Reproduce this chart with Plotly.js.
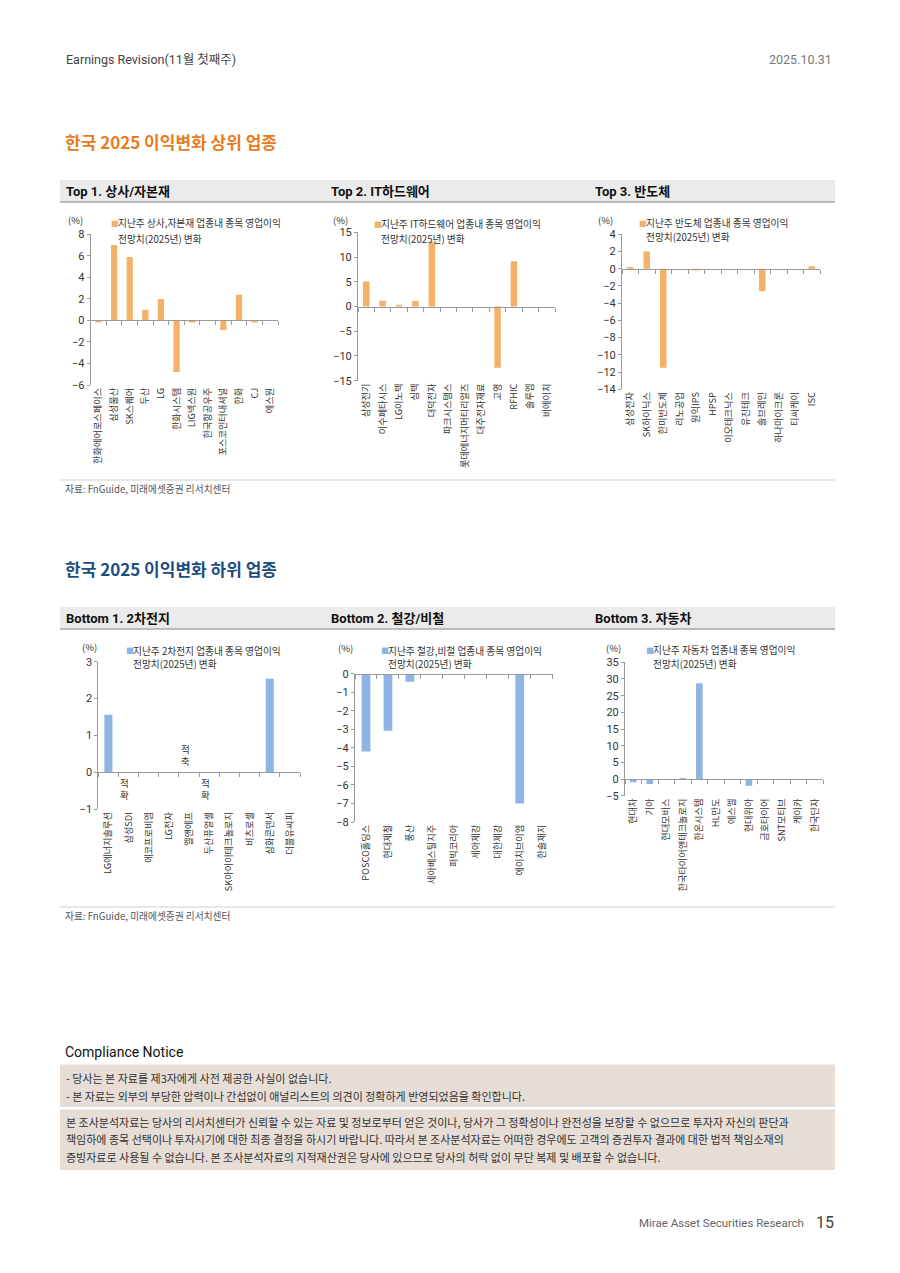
<!DOCTYPE html>
<html><head><meta charset="utf-8">
<script src="https://cdn.plot.ly/plotly-3.0.1.min.js"></script>
<style>html,body{margin:0;padding:0;background:#fff;overflow:hidden}#chart{width:900px;height:1273px}</style>
</head><body><div id="chart"></div>
<script>
// ---------- DATA ----------
const top1Cats = ['한화에어로스페이스','삼성물산','SK스퀘어','두산','LG','한화시스템','LIG넥스원','한국항공우주','포스코인터내셔널','한화','CJ','에스원'];
const top1Vals = [-0.2, 7.0, 5.9, 1.0, 2.0, -4.8, -0.2, -0.05, -0.9, 2.38, -0.2, 0];

const top2Cats = ['삼성전기','이수페타시스','LG이노텍','심텍','대덕전자','파크시스템스','롯데에너지머티리얼즈','대주전자재료','고영','RFHIC','솔루엠','비에이치'];
const top2Vals = [5.05, 1.15, 0.35, 1.1, 13.0, 0, 0, 0, -12.4, 9.15, 0, 0];

const top3Cats = ['삼성전자','SK하이닉스','한미반도체','리노공업','원익IPS','HPSP','이오테크닉스','유진테크','솔브레인','하나마이크론','티씨케이','ISC'];
const top3Vals = [0.2, 2.0, -11.5, 0, -0.2, 0, 0, 0, -2.6, 0, 0, 0.3];

const bot1Cats = ['LG에너지솔루션','삼성SDI','에코프로비엠','LG전자','엘앤에프','두산퓨얼셀','SK아이이테크놀로지','비츠로셀','삼화콘덴서','더블유씨피'];
const bot1Vals = [1.56, 0, 0, 0, 0, 0, 0, 0, 2.54, 0];
const bot1Notes = ['', '적확', '', '', '적축', '적확', '', '', '', ''];

const bot2Cats = ['POSCO홀딩스','현대제철','풍산','세아베스틸지주','퍼빅코리아','세아제강','대한제강','에이치브이엠','한솔제지'];
const bot2Vals = [-4.2, -3.08, -0.43, 0, 0, 0, 0, -7.0, 0];

const bot3Cats = ['현대차','기아','현대모비스','한국타이어앤테크놀로지','한온시스템','HL만도','에스엘','현대위아','금호타이어','SNT모티브','케이카','한국단자'];
const bot3Vals = [-1.0, -1.5, 0, 0.3, 28.7, -0.1, 0, -2.0, 0, 0, 0, 0];

const legendTexts = [
  ['지난주 상사,자본재 업종내 종목 영업이익','전망치(2025년) 변화'],
  ['지난주 IT하드웨어 업종내 종목 영업이익','전망치(2025년) 변화'],
  ['지난주 반도체 업종내 종목 영업이익','전망치(2025년) 변화'],
  ['지난주 2차전지 업종내 종목 영업이익','전망치(2025년) 변화'],
  ['지난주 철강,비철 업종내 종목 영업이익','전망치(2025년) 변화'],
  ['지난주 자동차 업종내 종목 영업이익','전망치(2025년) 변화']
];
const panelTitles = ['Top 1. 상사/자본재','Top 2. IT하드웨어','Top 3. 반도체','Bottom 1. 2차전지','Bottom 2. 철강/비철','Bottom 3. 자동차'];

// ---------- STYLE / LAYOUT ----------
const W = 900, H = 1273;
const fx = x => x / W;
const fy = y => 1 - y / H;
const ORANGE = '#F2B26A';
const BLUE = '#8DB4E2';
const KR = "'Noto Sans CJK KR', sans-serif";
const LAT = "Roboto, 'Noto Sans CJK KR', sans-serif";

const charts = [
  {cats: top1Cats, vals: top1Vals, color: ORANGE, range: [-6, 8], dtick: 2, box: [90.7, 278, 234.3, 385], leg: [111.7, 223.3, 238.5], pct: [66, 220]},
  {cats: top2Cats, vals: top2Vals, color: ORANGE, range: [-15, 15], dtick: 5, box: [358, 555, 232.3, 380.7], leg: [375, 224.5, 238.5], pct: [331, 220]},
  {cats: top3Cats, vals: top3Vals, color: ORANGE, range: [-14, 4], dtick: 2, box: [622, 820, 234.3, 389.3], leg: [640, 223.3, 237], pct: [596, 220]},
  {cats: bot1Cats, vals: bot1Vals, color: BLUE, range: [-1, 3], dtick: 1, box: [98.3, 300, 661.7, 809.3], leg: [126.7, 650.7, 664.3], pct: [80, 647]},
  {cats: bot2Cats, vals: bot2Vals, color: BLUE, range: [-8, 0], dtick: 1, box: [355, 552.7, 673.7, 822], leg: [382.3, 650.7, 663.5], pct: [336, 648]},
  {cats: bot3Cats, vals: bot3Vals, color: BLUE, range: [-5, 35], dtick: 5, box: [625, 823.3, 662.3, 795.7], leg: [647.3, 650, 663.5], pct: [604, 648]}
];

const data = [];
const layout = {
  width: W, height: H,
  margin: {l: 0, r: 0, t: 0, b: 0},
  paper_bgcolor: '#fff', plot_bgcolor: 'rgba(0,0,0,0)',
  showlegend: false,
  bargap: 0.6,
  font: {family: KR, color: '#333'},
  annotations: [],
  shapes: []
};

function ann(x, y, text, size, extra) {
  return Object.assign({
    xref: 'paper', yref: 'paper', x: fx(x), y: fy(y), text: text, showarrow: false,
    xanchor: 'left', yanchor: 'middle', font: {family: KR, size: size, color: '#333'}
  }, extra || {});
}

charts.forEach((c, k) => {
  const i = k + 1, j = k + 7;
  const n = c.cats.length;
  const [l, r, t, b] = c.box;
  const y0 = fy(b), y1 = fy(t);
  data.push({
    type: 'bar', x: c.cats, y: c.vals, xaxis: 'x' + i, yaxis: 'y' + i,
    marker: {color: c.color, line: {width: 0}}, hoverinfo: 'x+y'
  });
  data.push({
    type: 'scatter', mode: 'markers', x: [null], y: [null], xaxis: 'x' + j, yaxis: 'y' + i,
    hoverinfo: 'skip', showlegend: false
  });
  layout['xaxis' + i] = {
    domain: [fx(l), fx(r)], anchor: 'y' + i, type: 'category',
    categoryorder: 'array', categoryarray: c.cats,
    range: [-0.5, n - 0.5], showline: false, showgrid: false, zeroline: false,
    ticks: '', tickangle: -90, tickfont: {family: KR, size: 9.2, color: '#333'}, fixedrange: true
  };
  layout['yaxis' + i] = {
    domain: [y0, y1], anchor: 'x' + i, range: c.range, dtick: c.dtick, tick0: 0,
    showline: true, linecolor: '#9a9a9a', linewidth: 1, ticks: 'outside', ticklen: 3, tickcolor: '#9a9a9a',
    showgrid: false, zeroline: false, tickfont: {family: LAT, size: 11, color: '#333'}, fixedrange: true
  };
  const zeroPos = y0 + (0 - c.range[0]) / (c.range[1] - c.range[0]) * (y1 - y0);
  const bounds = [];
  for (let q = 0; q <= n; q++) bounds.push(q - 0.5);
  layout['xaxis' + j] = {
    overlaying: 'x' + i, anchor: 'free', position: zeroPos, domain: [fx(l), fx(r)],
    range: [-0.5, n - 0.5], tickvals: bounds, ticks: 'outside', ticklen: 4, tickcolor: '#9a9a9a',
    showticklabels: false, showline: true, linecolor: '#9a9a9a', linewidth: 1,
    showgrid: false, zeroline: false, fixedrange: true
  };
  // legend
  layout.annotations.push(ann(c.leg[0] - 3, c.leg[1], '■', 8, {font: {family: KR, size: 8, color: c.color}}));
  layout.annotations.push(ann(c.leg[0] + 4, c.leg[1], legendTexts[k][0], 9.7));
  layout.annotations.push(ann(c.leg[0] + 4, c.leg[2], legendTexts[k][1], 9.7));
  layout.annotations.push(ann(c.pct[0], c.pct[1], '(%)', 9.5));
});

// notes on Bottom 1
bot1Notes.forEach((nt, q) => {
  if (!nt) return;
  const above = nt === '적축';
  layout.annotations.push({
    xref: 'x4', yref: 'y4', x: bot1Cats[q], y: 0, text: nt.split('').join('<br>'), showarrow: false,
    xanchor: 'center', yanchor: above ? 'bottom' : 'top', yshift: above ? 2 : -2, xshift: -4,
    font: {family: KR, size: 9.5, color: '#333'}
  });
});

// page texts
layout.annotations.push(ann(64, 60, 'Earnings Revision(11월 첫째주)', 12.5, {font: {family: LAT, size: 12.5, color: '#444'}}));
layout.annotations.push(ann(834, 60, '2025.10.31', 12.5, {xanchor: 'right', font: {family: LAT, size: 12.5, color: '#777'}}));
layout.annotations.push(ann(63, 142, '<b>한국 2025 이익변화 상위 업종</b>', 17, {font: {family: KR, size: 17, color: '#E87C1E'}}));
layout.annotations.push(ann(63, 568, '<b>한국 2025 이익변화 하위 업종</b>', 17, {font: {family: KR, size: 17, color: '#1C4E80'}}));

// grey panel header bars
[[180, 202], [607, 629]].forEach(([a, bb], row) => {
  layout.shapes.push({type: 'rect', xref: 'paper', yref: 'paper', x0: fx(60), x1: fx(835), y0: fy(bb), y1: fy(a), fillcolor: '#EBEBEB', line: {width: 0}, layer: 'below'});
  layout.shapes.push({type: 'line', xref: 'paper', yref: 'paper', x0: fx(60), x1: fx(835), y0: fy(bb), y1: fy(bb), line: {color: '#A8A8A8', width: 1.5}});
  [64, 329, 593].forEach((px, col) => {
    layout.annotations.push(ann(px, (a + bb) / 2 + 0.5, '<b>' + panelTitles[row * 3 + col] + '</b>', 13, {font: {family: LAT, size: 13, color: '#111'}}));
  });
});

// source lines
[[480, 489], [907, 915.5]].forEach(([ly, ty]) => {
  layout.shapes.push({type: 'line', xref: 'paper', yref: 'paper', x0: fx(60), x1: fx(835), y0: fy(ly), y1: fy(ly), line: {color: '#CFCFCF', width: 1}});
  layout.annotations.push(ann(63, ty, '자료: FnGuide, 미래에셋증권 리서치센터', 9.7, {font: {family: KR, size: 9.7, color: '#555'}}));
});

// compliance
layout.annotations.push(ann(63, 1052, 'Compliance Notice', 14, {font: {family: LAT, size: 14, color: '#111'}}));
layout.shapes.push({type: 'rect', xref: 'paper', yref: 'paper', x0: fx(60), x1: fx(835), y0: fy(1107), y1: fy(1064.5), fillcolor: '#E5DDD6', line: {width: 0}, layer: 'below'});
layout.shapes.push({type: 'rect', xref: 'paper', yref: 'paper', x0: fx(60), x1: fx(835), y0: fy(1170), y1: fy(1109.5), fillcolor: '#E5DDD6', line: {width: 0}, layer: 'below'});
const compl = [
  ['- 당사는 본 자료를 제3자에게 사전 제공한 사실이 없습니다.', 1077.5],
  ['- 본 자료는 외부의 부당한 압력이나 간섭없이 애널리스트의 의견이 정확하게 반영되었음을 확인합니다.', 1095.5],
  ['본 조사분석자료는 당사의 리서치센터가 신뢰할 수 있는 자료 및 정보로부터 얻은 것이나, 당사가 그 정확성이나 완전성을 보장할 수 없으므로 투자자 자신의 판단과', 1121.5],
  ['책임하에 종목 선택이나 투자시기에 대한 최종 결정을 하시기 바랍니다. 따라서 본 조사분석자료는 어떠한 경우에도 고객의 증권투자 결과에 대한 법적 책임소재의', 1139],
  ['증빙자료로 사용될 수 없습니다. 본 조사분석자료의 지적재산권은 당사에 있으므로 당사의 허락 없이 무단 복제 및 배포할 수 없습니다.', 1157]
];
compl.forEach(([txt, y]) => layout.annotations.push(ann(64, y, txt, 11, {font: {family: KR, size: 11, color: '#333'}})));

// footer
layout.annotations.push(ann(806, 1223, 'Mirae Asset Securities Research', 11.5, {xanchor: 'right', font: {family: LAT, size: 11.5, color: '#666'}}));
layout.annotations.push(ann(836, 1222, '15', 16, {xanchor: 'right', font: {family: LAT, size: 16, color: '#444'}}));

Plotly.newPlot('chart', data, layout, {staticPlot: true, displayModeBar: false});
</script></body></html>
